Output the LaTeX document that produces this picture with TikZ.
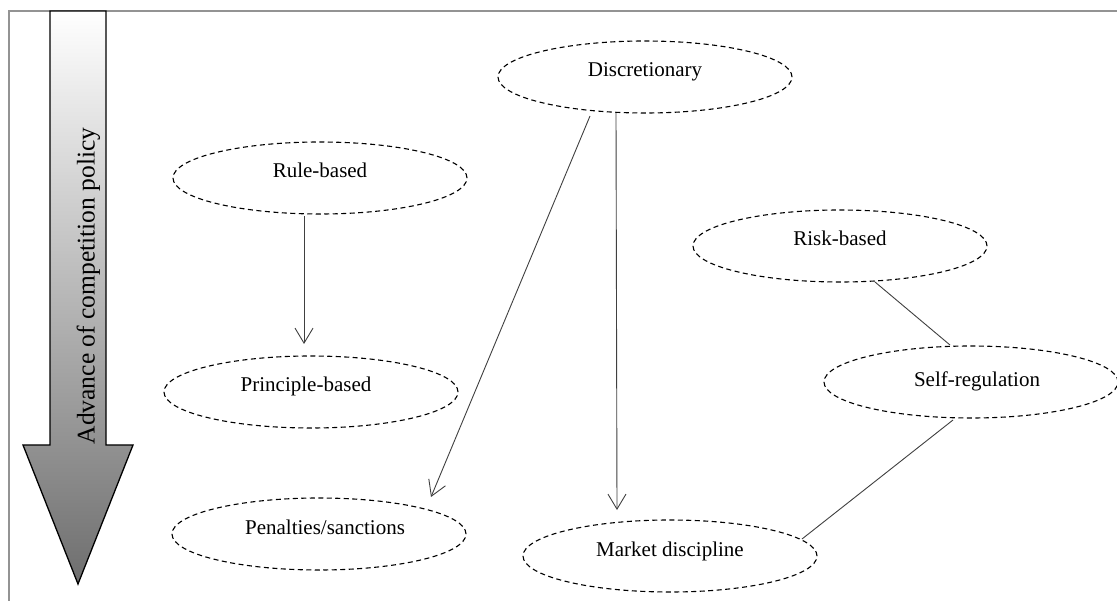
\documentclass[tikz,border=0pt]{standalone}
\usepackage{fontspec}
\setmainfont{Liberation Serif}
\usetikzlibrary{shapes.geometric,arrows.meta,calc}
\begin{document}
\begin{tikzpicture}[x=1pt,y=-1pt,
  oval/.style={ellipse, draw=black, dash pattern=on 5pt off 3.5pt, line width=1.1pt,
    minimum width=294pt, minimum height=72pt, inner sep=0pt,
    text height=0pt, text depth=0pt,
    font=\fontsize{21}{25}\selectfont},
  conn/.style={draw=black!75, line width=0.9pt},
  arr/.style={conn, -{Straight Barb[length=15pt,width=18pt,line width=0.9pt]}}]
\useasboundingbox (0,0) rectangle (1117,601);
\fill[white] (0,0) rectangle (1117,601);
\draw[gray!85, line width=2pt] (1117,11) -- (9,11) -- (9,601);
% big arrow
\path[draw=black, line width=1.3pt, top color=white,
  bottom color={rgb,255:red,110;green,110;blue,110}]
  (50,11) -- (106,11) -- (106,445) -- (133,445) -- (78,584) -- (23,445) -- (50,445) -- cycle;
\node[rotate=90, inner sep=0pt, font=\fontsize{25.5}{30}\selectfont] (adv) at (88.5,286) {Advance of competition policy};
% ellipses
\node[oval] (disc) at (645,77) {Discretionary};
\node[oval] (rule) at (320,178) {Rule-based};
\node[oval] (prin) at (311,392) {Principle-based\hspace*{10pt}};
\node[oval] (pen) at (319,534) {\hspace*{12pt}Penalties/sanctions};
\node[oval] (market) at (670,556) {Market discipline};
\node[oval] (risk) at (840,246) {Risk-based};
\node[oval] (self) at (971,382) {\hspace*{12pt}\raisebox{-5pt}{Self-regulation}};
% connectors
\draw[arr] ($(rule)+(-16,38)$) -- ($(prin)+(-7,-48)$);
\draw[arr] ($(disc)+(-55,39)$) -- ($(pen)+(112,-37)$);
\draw[arr] ($(disc)+(-29,36)$) -- ($(market)+(-53,-46)$);
\draw[conn] ($(risk)+(35,36)$) -- ($(self)+(-21,-37)$);
\draw[conn] ($(self)+(-18,38)$) -- ($(market)+(132,-17)$);
\end{tikzpicture}
\end{document}
